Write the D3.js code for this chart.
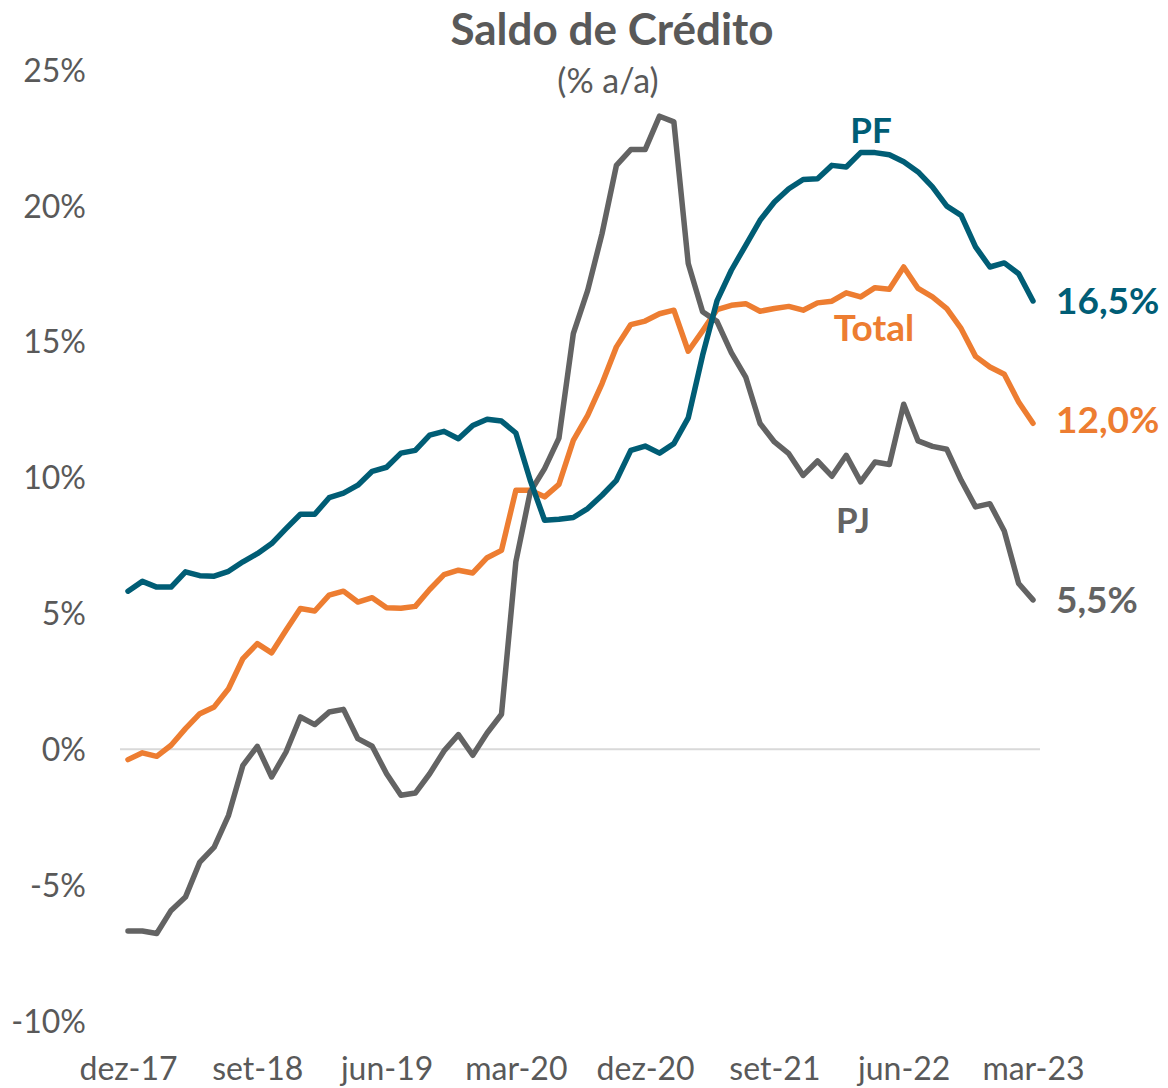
<!DOCTYPE html>
<html>
<head>
<meta charset="utf-8">
<script src="https://cdn.jsdelivr.net/npm/d3@7"></script>
<style>
  html, body { margin: 0; padding: 0; background: #ffffff; }
  svg { display: block; }
  text { font-family: Lato, "Open Sans", sans-serif; }
</style>
</head>
<body>
<svg id="chart" width="1168" height="1088"></svg>
<script>
// Monthly categories, dez-17 .. mar-23
const months = [
  "dez-17","jan-18","fev-18","mar-18","abr-18","mai-18","jun-18","jul-18","ago-18","set-18","out-18","nov-18",
  "dez-18","jan-19","fev-19","mar-19","abr-19","mai-19","jun-19","jul-19","ago-19","set-19","out-19","nov-19",
  "dez-19","jan-20","fev-20","mar-20","abr-20","mai-20","jun-20","jul-20","ago-20","set-20","out-20","nov-20",
  "dez-20","jan-21","fev-21","mar-21","abr-21","mai-21","jun-21","jul-21","ago-21","set-21","out-21","nov-21",
  "dez-21","jan-22","fev-22","mar-22","abr-22","mai-22","jun-22","jul-22","ago-22","set-22","out-22","nov-22",
  "dez-22","jan-23","fev-23","mar-23"
];

// Tick labels shown on the x axis
const xTickLabels = ["dez-17","set-18","jun-19","mar-20","dez-20","set-21","jun-22","mar-23"];
const yTicks = [-10, -5, 0, 5, 10, 15, 20, 25];

// Year-over-year growth of credit balance (%)
const pf = [
  5.82, 6.18, 5.97, 5.97, 6.53, 6.39, 6.37, 6.55, 6.90, 7.20, 7.57, 8.12,
  8.65, 8.65, 9.26, 9.43, 9.72, 10.23, 10.38, 10.90, 11.00, 11.56, 11.70, 11.43,
  11.92, 12.15, 12.08, 11.64, 9.90, 8.43, 8.47, 8.53, 8.86, 9.35, 9.90, 11.00,
  11.16, 10.90, 11.25, 12.20, 14.50, 16.50, 17.63, 18.55, 19.47, 20.14, 20.63, 20.97,
  21.00, 21.49, 21.43, 21.96, 21.96, 21.88, 21.62, 21.25, 20.70, 19.99, 19.65, 18.49,
  17.75, 17.90, 17.50, 16.50
];

const total = [
  -0.38, -0.13, -0.26, 0.15, 0.76, 1.31, 1.56, 2.23, 3.34, 3.89, 3.55, 4.38,
  5.18, 5.09, 5.67, 5.82, 5.42, 5.58, 5.21, 5.19, 5.26, 5.88, 6.43, 6.59,
  6.49, 7.05, 7.32, 9.53, 9.53, 9.29, 9.75, 11.37, 12.29, 13.46, 14.81, 15.63,
  15.76, 16.03, 16.16, 14.65, 15.40, 16.18, 16.34, 16.40, 16.12, 16.22, 16.30, 16.16,
  16.43, 16.49, 16.80, 16.65, 16.99, 16.93, 17.75, 16.96, 16.65, 16.22, 15.48, 14.46,
  14.07, 13.80, 12.78, 12.00
];

const pj = [
  -6.69, -6.69, -6.78, -5.93, -5.44, -4.15, -3.60, -2.43, -0.59, 0.11, -1.02, -0.10,
  1.19, 0.91, 1.37, 1.47, 0.39, 0.11, -0.90, -1.69, -1.61, -0.90, -0.06, 0.54,
  -0.22, 0.60, 1.29, 6.90, 9.47, 10.33, 11.45, 15.30, 16.89, 18.98, 21.49, 22.07,
  22.07, 23.30, 23.09, 17.88, 16.10, 15.75, 14.60, 13.70, 11.99, 11.31, 10.88, 10.08,
  10.61, 10.05, 10.82, 9.84, 10.57, 10.48, 12.70, 11.35, 11.15, 11.04, 9.90, 8.92,
  9.04, 8.03, 6.10, 5.50
];

const seriesNames = ["Total", "PJ", "PF"];
const seriesColors = { Total: "#ED7D31", PJ: "#636363", PF: "#005D75" };
const seriesValues = { Total: total, PJ: pj, PF: pf };

const svg = d3.select("#chart");
const textGray = "#595959";

const x = d3.scalePoint().domain(months).range([128, 1033]);
const y = d3.scaleLinear().domain([-10, 25]).range([1021, 70]);

// Title
svg.append("text")
  .attr("x", 612).attr("y", 45)
  .attr("text-anchor", "middle")
  .attr("font-size", 44).attr("font-weight", 700)
  .attr("fill", textGray)
  .text("Saldo de Crédito");

svg.append("text")
  .attr("x", 608).attr("y", 93)
  .attr("text-anchor", "middle")
  .attr("font-size", 34)
  .attr("fill", textGray)
  .text("(% a/a)");

// Y axis labels
const yAxis = d3.axisLeft(y).tickValues(yTicks).tickSize(0).tickPadding(0)
  .tickFormat(d => d + "%");
const gy = svg.append("g").attr("transform", "translate(86,0)").call(yAxis);
gy.select(".domain").remove();
gy.selectAll("text")
  .attr("font-family", "Lato, 'Open Sans', sans-serif")
  .attr("font-size", 32).attr("fill", textGray).attr("dy", "0.35em");

// X axis labels
const xAxis = d3.axisBottom(x).tickValues(xTickLabels).tickSize(0).tickPadding(0);
const gx = svg.append("g").attr("transform", "translate(0,1050)").call(xAxis);
gx.select(".domain").remove();
gx.selectAll("text")
  .attr("font-family", "Lato, 'Open Sans', sans-serif")
  .attr("font-size", 32).attr("fill", textGray).attr("dy", "0.95em");

// Zero reference line
svg.append("line")
  .attr("x1", 120).attr("x2", 1040)
  .attr("y1", y(0)).attr("y2", y(0))
  .attr("stroke", "#D9D9D9").attr("stroke-width", 2);

// Series lines
const line = d3.line().x((d, i) => x(months[i])).y(d => y(d));
seriesNames.forEach(name => {
  svg.append("path")
    .datum(seriesValues[name])
    .attr("d", line)
    .attr("fill", "none")
    .attr("stroke", seriesColors[name])
    .attr("stroke-width", 5.5)
    .attr("stroke-linejoin", "round")
    .attr("stroke-linecap", "round");
});

// Series names placed near their lines
const nameLabels = [
  { name: "PF", x: 871, v: 22.75, size: 35 },
  { name: "Total", x: 874, v: 15.5, size: 37 },
  { name: "PJ", x: 853, v: 8.4, size: 35 }
];
nameLabels.forEach(l => {
  svg.append("text")
    .attr("x", l.x).attr("y", y(l.v))
    .attr("dy", "0.35em")
    .attr("text-anchor", "middle")
    .attr("font-size", l.size).attr("font-weight", 700)
    .attr("fill", seriesColors[l.name])
    .text(l.name);
});

// Last value labels
const fmt = v => v.toFixed(1).replace(".", ",") + "%";
const endOffsets = { PF: 0, Total: 0.1, PJ: 0 };
seriesNames.forEach(name => {
  const vals = seriesValues[name];
  const last = vals[vals.length - 1];
  svg.append("text")
    .attr("x", 1056)
    .attr("y", y(last + endOffsets[name]))
    .attr("dy", "0.35em")
    .attr("font-size", 37).attr("font-weight", 700)
    .attr("fill", seriesColors[name])
    .text(fmt(last));
});
</script>
</body>
</html>
